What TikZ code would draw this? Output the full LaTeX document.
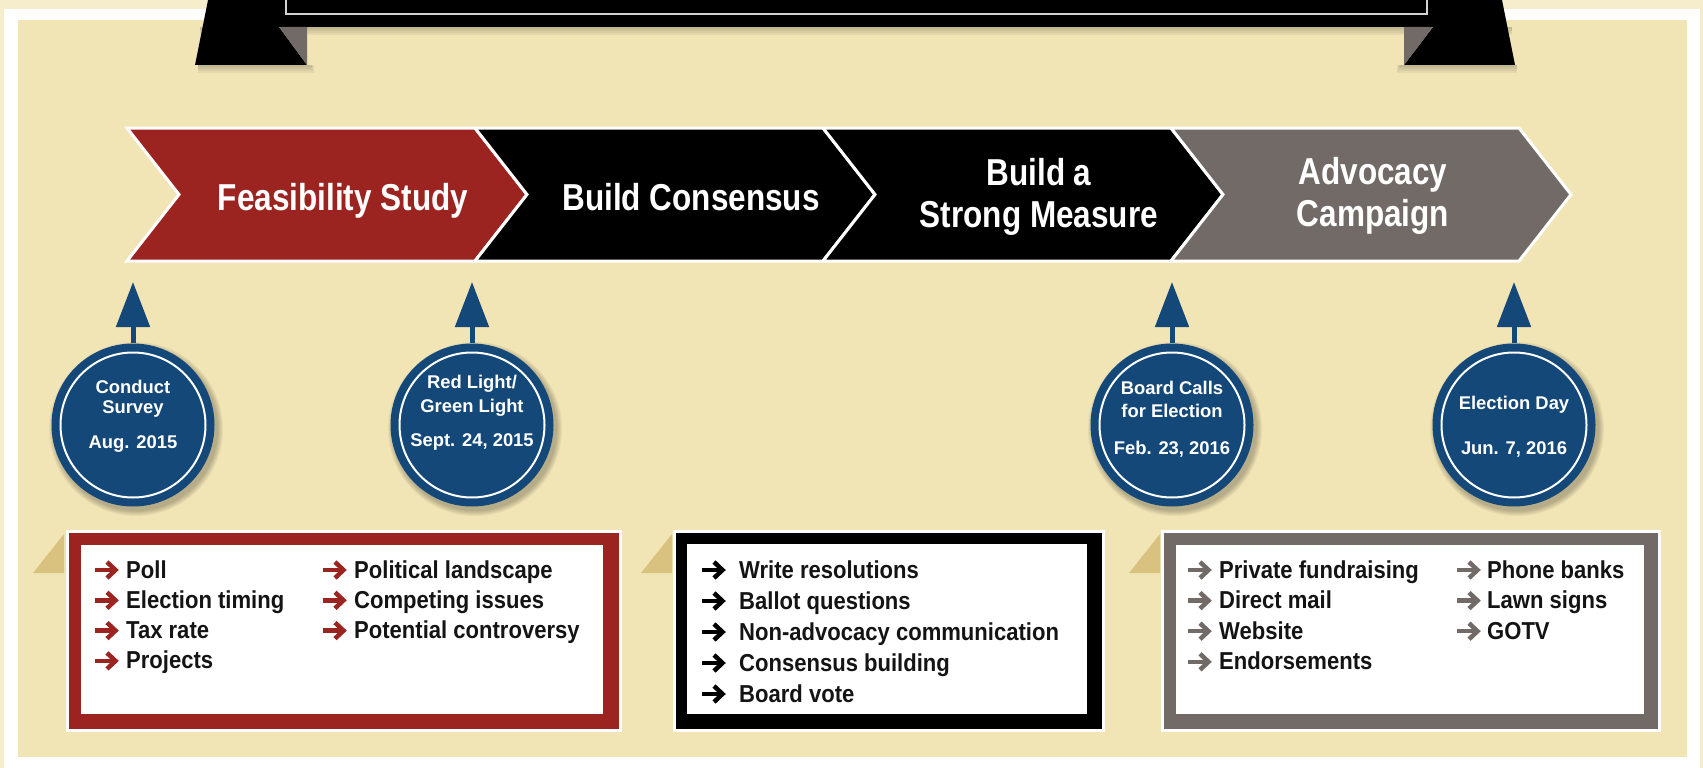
\documentclass[tikz,border=0pt]{standalone}
\usepackage{fontspec}
\setmainfont{Liberation Sans}
\newfontfamily\titlefont[FakeStretch=0.84]{Liberation Sans}
\newfontfamily\listfont[FakeStretch=0.9]{Liberation Sans}
\usetikzlibrary{arrows.meta}
\definecolor{bgtan}{HTML}{F1E4B5}
\definecolor{bgcream}{HTML}{F6EDCD}
\definecolor{fsred}{HTML}{9B2421}
\definecolor{fsgrey}{HTML}{716A66}
\definecolor{fsblue}{HTML}{144878}
\definecolor{tabtan}{HTML}{D9C27F}
\tikzset{
  chev/.style={draw=white, line width=3pt, line join=miter},
  title/.style={font=\titlefont\bfseries\fontsize{37.5}{40}\selectfont, text=white, inner sep=0pt, anchor=base},
  ctext/.style={font=\bfseries\fontsize{18.4}{22}\selectfont, text=white, inner sep=0pt, anchor=base},
  circ/.style={circle, fill=fsblue, minimum size=163pt, inner sep=0pt, draw=none},
  ring/.style={draw=white, line width=2pt},
  marker/.style={line width=5pt, fsblue, -{Triangle[width=33pt,length=45pt]}},
  frame/.style={draw=white, line width=3pt, inner sep=0pt, anchor=north west},
  inner/.style={fill=white, inner sep=0pt, anchor=north west},
  tab/.style={fill=tabtan},
  item/.style={font=\listfont\bfseries\fontsize{24.5}{28}\selectfont, text=black!92, inner sep=0pt, anchor=base west},
  itemarr/.pic={
    \draw[line width=4.5pt, line cap=butt] (0,-8) -- (19,-8);
    \draw[line width=4.5pt, line join=miter, miter limit=10] (12,-16) -- (20.5,-8) -- (12,0);
  }
}
\begin{document}
\begin{tikzpicture}[x=1pt,y=-1pt]
\useasboundingbox (0,0) rectangle (1703,768);
% background frame
\fill[bgcream] (0,0) rectangle (1703,768);
\fill[white] (4,9) rectangle (1700,768);
\fill[bgtan] (18,20) rectangle (1687,757);
% banner shadow
\foreach \k in {1,...,4}{
  \fill[black, opacity=0.05] (200,27) rectangle (1512,27+2*\k);
  \fill[black, opacity=0.05] (198,65) rectangle (310+\k,65+2*\k);
  \fill[black, opacity=0.05] (1401-\k,65) rectangle (1517,65+2*\k);
}
% banner
\fill[black] (208,0) -- (195,65) -- (307,65) -- (279,27) -- (1433,27) -- (1404,65) -- (1515,65) -- (1502,0) -- cycle;
\fill[fsgrey] (279,27) -- (307,27) -- (307,65) -- cycle;
\fill[fsgrey] (1404,27) -- (1433,27) -- (1404,65) -- cycle;
\draw[line width=2pt, draw=gray!35, fill=black] (286,-5) rectangle (1427,14);
% chevrons
\foreach \L/\col in {127/fsred,475/black,823/black,1171/fsgrey}{
  \filldraw[chev, fill=\col] (\L,128) -- ++(348,0) -- ++(52,66.5) -- ++(-52,66.5) -- ++(-348,0) -- ++(52,-66.5) -- cycle;
}
\node[title] (t1) at (343,210) {Feasibility Study};
\node[title] (t2) at (691,210) {Build Consensus};
\node[title] (t3a) at (1039,185) {Build a};
\node[title] (t3b) at (1039,227) {Strong Measure};
\node[title] (t4a) at (1373,184) {Advocacy};
\node[title] (t4b) at (1373,226) {Campaign};
% milestone circles
\foreach \n/\x in {1/133,2/472,3/1172,4/1514}{
  \foreach \k in {1,...,6}{
    \fill[black, opacity=0.045] (\x+3,429) circle (81+\k);
  }
  \node[circ] (c\n) at (\x,425) {};
  \draw[ring] (c\n.center) circle (72.5);
  \coordinate (a\n) at (\x,282);
  \draw[marker] (c\n.north) -- (a\n);
}
\node[ctext] (c1l1) at (133,393) {Conduct};
\node[ctext] (c1l2) at (133,413) {Survey};
\node[ctext] (c1l3) at (133,448) {Aug. 2015};
\node[ctext] (c2l1) at (472,388) {Red Light/};
\node[ctext] (c2l2) at (472,412) {Green Light};
\node[ctext] (c2l3) at (472,446) {Sept. 24, 2015};
\node[ctext] (c3l1) at (1172,394) {Board Calls};
\node[ctext] (c3l2) at (1172,417) {for Election};
\node[ctext] (c3l3) at (1172,454) {Feb. 23, 2016};
\node[ctext] (c4l1) at (1514,409) {Election Day};
\node[ctext] (c4l3) at (1514,454) {Jun. 7, 2016};
% boxes
\fill[tab] (33,573) -- (64,573) -- (64,534) -- cycle;
\fill[tab] (641,573) -- (672,573) -- (672,534) -- cycle;
\fill[tab] (1129,573) -- (1160,573) -- (1160,534) -- cycle;
\node[frame, fill=fsred, minimum width=553pt, minimum height=199pt] (box1) at (65.5,529.5) {};
\node[inner, minimum width=522pt, minimum height=169pt] (box1in) at (81,545) {};
\node[frame, fill=black, minimum width=429pt, minimum height=199pt] (box2) at (672.5,529.5) {};
\node[inner, minimum width=400pt, minimum height=170pt] (box2in) at (687,544) {};
\node[frame, fill=fsgrey, minimum width=497pt, minimum height=199pt] (box3) at (1160.5,529.5) {};
\node[inner, minimum width=468pt, minimum height=169pt] (box3in) at (1176,545) {};
% box 1 items
\foreach \t [count=\i from 0] in {Poll,Election timing,Tax rate,Projects}{
  \pic[fsred] at (95,578+30.3*\i) {itemarr};
  \node[item] (b1a\i) at (126,578+30.3*\i) {\t};
}
\foreach \t [count=\i from 0] in {Political landscape,Competing issues,Potential controversy}{
  \pic[fsred] at (323,578+30.3*\i) {itemarr};
  \node[item] (b1b\i) at (354,578+30.3*\i) {\t};
}
% box 2 items
\foreach \t [count=\i from 0] in {Write resolutions,Ballot questions,Non-advocacy communication,Consensus building,Board vote}{
  \pic[black] at (702,578+31*\i) {itemarr};
  \node[item] (b2a\i) at (739,578+31*\i) {\t};
}
% box 3 items
\foreach \t [count=\i from 0] in {Private fundraising,Direct mail,Website,Endorsements}{
  \pic[fsgrey] at (1188,578+30.6*\i) {itemarr};
  \node[item] (b3a\i) at (1219,578+30.6*\i) {\t};
}
\foreach \t [count=\i from 0] in {Phone banks,Lawn signs,GOTV}{
  \pic[fsgrey] at (1457,578+30.6*\i) {itemarr};
  \node[item] (b3b\i) at (1487,578+30.6*\i) {\t};
}
\end{tikzpicture}
\end{document}
